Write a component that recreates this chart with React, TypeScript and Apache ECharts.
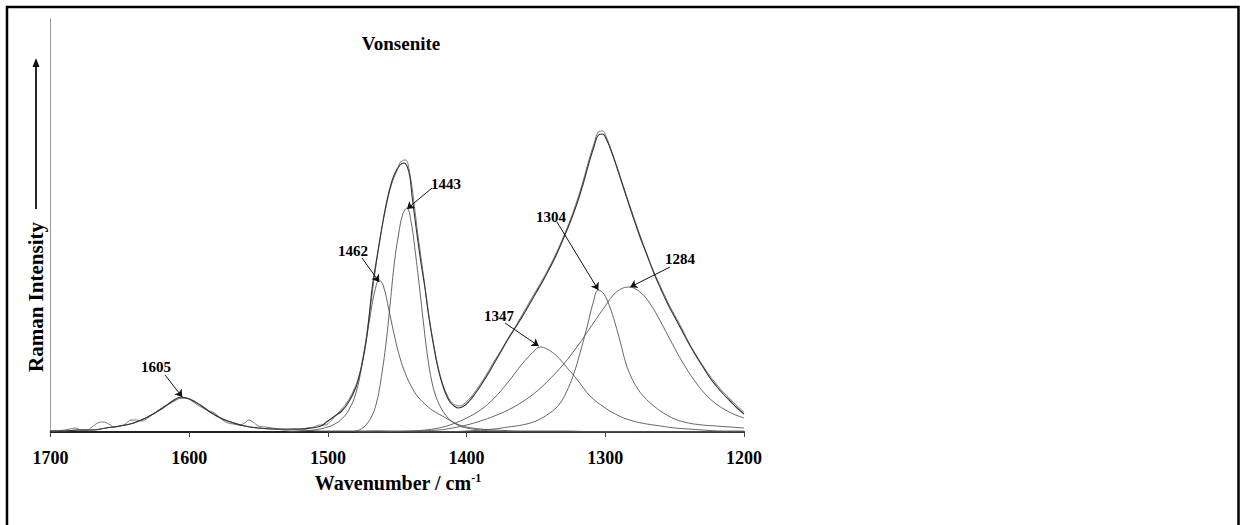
import React, { useEffect, useRef } from "react";
import * as echarts from "echarts";

// ---- data (wavenumber / cm-1 and Raman intensity, arbitrary units) ----
const xMin = 1200;
const xMax = 1700;
const xStep = 100;
const yMax = 413;

const spectrumWn = [1700,1695,1690,1686,1682,1678,1674,1670,1666,1662,1658,1654,1650,1646,1642,1638,1634,1630,1625,1620,1615,1610,1606,1602,1598,1594,1590,1586,1583,1580,1576,1572,1568,1564,1560,1557,1554,1550,1545,1540,1535,1530,1525,1520,1515,1510,1506,1502,1498,1494,1490,1486,1482,1478,1474,1470,1466,1462,1458,1454,1450,1447,1444,1441,1438,1435,1432,1429,1426,1423,1420,1417,1414,1411,1408,1405,1402,1398,1394,1390,1385,1380,1375,1370,1365,1360,1355,1350,1345,1340,1335,1330,1325,1320,1316,1312,1308,1305,1302,1299,1296,1292,1288,1284,1280,1275,1270,1265,1260,1255,1250,1245,1240,1235,1230,1225,1220,1215,1210,1205,1200];
const spectrumI = [1,1,2,3,4,2,2,5,9,10,8,5,6,8,12,12,11,14,19,24,28,32,34,34,31,27,24,21,20,17,12,9,8,7,9,12,10,6,5,4,3,2,3,3,4,5,7,7,11,17,23,30,40,54,80,118,160,196,226,248,262,271,272,259,230,196,166,134,106,82,62,47,37,30,27,26,28,33,40,48,59,71,82,94,105,117,129,141,153,166,180,196,213,233,251,271,289,300,301,294,283,267,250,233,217,197,178,160,145,130,117,104,90,78,67,57,48,40,33,26,20];

const envelopeWn = [1700,1690,1680,1670,1660,1650,1640,1630,1620,1612,1606,1600,1592,1584,1576,1568,1560,1550,1540,1530,1520,1512,1505,1500,1495,1490,1485,1480,1476,1472,1468,1464,1460,1456,1452,1448,1445,1443,1441,1439,1436,1433,1430,1427,1424,1421,1418,1415,1412,1409,1406,1402,1398,1394,1390,1385,1380,1375,1370,1365,1360,1355,1350,1345,1340,1335,1330,1325,1320,1316,1312,1308,1305,1302,1299,1296,1292,1288,1284,1280,1275,1270,1265,1260,1255,1250,1245,1240,1235,1230,1225,1220,1215,1210,1205,1200];
const envelopeI = [1,1,2,2,4,6,9,15,23,31,35,33,27,19,13,9,6,4,3,3,3,4,6,11,16,21,30,44,64,95,145,180,213,240,258,267,269,266,256,232,200,170,144,113,88,66,50,38,30,26,24,26,31,38,46,57,69,81,93,104,115,127,139,151,164,178,194,211,230,248,268,286,297,298,292,282,266,249,232,215,195,177,159,143,128,115,102,89,77,66,55,46,38,31,24,18];

const c1605Wn = [1700,1690,1680,1670,1660,1650,1640,1630,1620,1612,1605,1598,1590,1580,1570,1560,1550,1540,1530,1520,1505,1490,1470,1440,1400,1300,1200];
const c1605I = [1,1,2,2,4,6,9,15,23,30,34,32,25,16,10,6,4,3,2,2,1,1,1,0,0,0,0];

const c1462Wn = [1530,1520,1510,1500,1495,1490,1485,1480,1475,1470,1466,1463,1460,1456,1452,1448,1444,1440,1435,1430,1425,1420,1415,1410,1405,1400,1390,1380,1360,1330,1300,1250,1200];
const c1462I = [0,1,2,5,8,13,22,38,70,112,142,152,146,122,96,74,58,46,35,28,22,18,14,10,7,5,3,2,1,1,0,0,0];

const c1443Wn = [1500,1485,1480,1476,1472,1468,1465,1462,1458,1455,1452,1449,1446,1443,1440,1437,1434,1431,1428,1425,1422,1418,1414,1410,1405,1400,1390,1380,1350,1300,1250,1200];
const c1443I = [0,0,1,3,8,17,29,50,90,130,170,198,218,224,210,180,145,108,74,50,35,23,15,10,6,4,2,1,0,0,0,0];

const c1347Wn = [1480,1460,1440,1430,1420,1410,1400,1390,1380,1370,1360,1352,1347,1342,1335,1328,1320,1311,1300,1290,1280,1270,1260,1250,1240,1230,1215,1200];
const c1347I = [0,0,1,2,4,8,14,22,34,50,68,80,85,83,76,65,52,36,24,16,11,8,6,4,3,2,1,1];

const c1304Wn = [1480,1440,1420,1400,1380,1370,1360,1350,1340,1333,1328,1323,1318,1313,1309,1305,1301,1297,1293,1289,1285,1281,1277,1272,1265,1258,1250,1240,1230,1220,1210,1200];
const c1304I = [0,0,0,1,3,5,7,11,19,28,40,57,80,106,128,142,138,126,109,89,68,54,44,35,26,19,13,9,7,6,5,4];

const c1284Wn = [1480,1460,1440,1420,1410,1400,1390,1380,1370,1360,1350,1340,1330,1320,1310,1300,1292,1283,1275,1268,1260,1252,1244,1236,1228,1220,1212,1206,1200];
const c1284I = [0,1,1,2,4,7,11,16,22,30,40,53,68,86,106,126,140,145,140,129,110,89,69,52,38,28,21,17,14];

// peak annotations: label text, arrow tip (wavenumber, intensity)
const peakLabels = ["1605", "1462", "1443", "1347", "1304", "1284"];
const peakWn = [1605, 1463, 1443, 1348, 1305, 1282];
const peakI = [35, 150, 223, 86, 142, 145];

const titleText = "Vonsenite";
const yName = "Raman Intensity";

// ---- layout (pixels) ----
const labelPos = [
  [156, 367], [353, 251], [446, 184], [499, 316], [551, 217], [680, 259],
];
const arrowStart = [
  [165, 375], [362, 258], [432, 188], [505, 323], [557, 222], [670, 267],
];

const FONT = '"Liberation Serif", "Times New Roman", serif';

const zip = (a: number[], b: number[]) => a.map((v, i) => [v, b[i]]);

function lineSeries(name: string, data: number[][], color: string, width: number, ann?: number) {
  const s: any = {
    name,
    type: "line",
    data,
    showSymbol: false,
    smooth: 0.4,
    lineStyle: { color, width },
    silent: true,
    z: 3,
  };
  if (ann !== undefined) {
    s.markLine = {
      silent: true,
      symbol: ["none", "arrow"],
      symbolSize: 7,
      lineStyle: { color: "#111", width: 1, type: "solid" },
      label: { show: false },
      data: [[
        { x: arrowStart[ann][0], y: arrowStart[ann][1] },
        { coord: [peakWn[ann], peakI[ann]] },
      ]],
    };
  }
  return s;
}

export default function App() {
  const ref = useRef<HTMLDivElement>(null);
  useEffect(() => {
    const chart = echarts.init(ref.current!, null, { renderer: "svg" });
    const option: any = {
      animation: false,
      backgroundColor: "#fff",
      grid: { left: 50.5, right: 496, top: 19, bottom: 93 },
      xAxis: {
        type: "value",
        min: xMin,
        max: xMax,
        interval: xStep,
        inverse: true,
        axisLine: { show: true, lineStyle: { color: "#222", width: 2 } },
        axisTick: { show: true, inside: false, length: 5, lineStyle: { color: "#444", width: 1 } },
        axisLabel: {
          fontFamily: FONT,
          fontWeight: "bold",
          fontSize: 18,
          color: "#000",
          margin: 26,
          verticalAlign: "middle",
          showMinLabel: true,
          showMaxLabel: true,
          formatter: (v: number) => String(v),
        },
        splitLine: { show: false },
      },
      yAxis: {
        type: "value",
        min: 0,
        max: yMax,
        axisLine: { show: true, lineStyle: { color: "#999", width: 1 } },
        axisTick: { show: false },
        axisLabel: { show: false },
        splitLine: { show: false },
      },
      series: [
        lineSeries("c1605", zip(c1605Wn, c1605I), "#555", 0.9, 0),
        lineSeries("c1462", zip(c1462Wn, c1462I), "#555", 0.9, 1),
        lineSeries("c1443", zip(c1443Wn, c1443I), "#555", 0.9, 2),
        lineSeries("c1347", zip(c1347Wn, c1347I), "#555", 0.9, 3),
        lineSeries("c1304", zip(c1304Wn, c1304I), "#555", 0.9, 4),
        lineSeries("c1284", zip(c1284Wn, c1284I), "#555", 0.9, 5),
        lineSeries("spectrum", zip(spectrumWn, spectrumI), "#777", 1),
        lineSeries("envelope", zip(envelopeWn, envelopeI), "#333", 1.1),
      ],
      graphic: [
        {
          type: "rect",
          shape: { x: 7, y: 7, width: 1231.5, height: 540 },
          style: { fill: "none", stroke: "#000", lineWidth: 2.5 },
          silent: true,
        },
        {
          type: "text",
          x: 401,
          y: 43,
          style: {
            text: titleText,
            fontFamily: FONT,
            fontWeight: "bold",
            fontSize: 19,
            fill: "#000",
            align: "center",
            verticalAlign: "middle",
          },
        },
        {
          type: "text",
          x: 398,
          y: 483,
          style: {
            text: "{a|Wavenumber / cm}{b|-1}",
            fill: "#000",
            align: "center",
            verticalAlign: "middle",
            rich: {
              a: { fontFamily: FONT, fontWeight: "bold", fontSize: 20, fill: "#000", lineHeight: 22 },
              b: { fontFamily: FONT, fontWeight: "bold", fontSize: 12, fill: "#000", lineHeight: 22, verticalAlign: "top" },
            },
          },
        },
        {
          type: "text",
          x: 36,
          y: 297,
          rotation: Math.PI / 2,
          style: {
            text: yName,
            fontFamily: FONT,
            fontWeight: "bold",
            fontSize: 21,
            fill: "#000",
            align: "center",
            verticalAlign: "middle",
          },
        },
        {
          type: "line",
          shape: { x1: 36, y1: 209, x2: 36, y2: 64 },
          style: { stroke: "#111", lineWidth: 1.8 },
        },
        {
          type: "polygon",
          shape: { points: [[36, 58], [32.5, 67], [39.5, 67]] },
          style: { fill: "#111" },
        },
        ...peakLabels.map((t, i) => ({
          type: "text",
          x: labelPos[i][0],
          y: labelPos[i][1],
          style: {
            text: t,
            fontFamily: FONT,
            fontWeight: "bold",
            fontSize: 15,
            fill: "#000",
            align: "center",
            verticalAlign: "middle",
          },
        })),
      ],
    };
    chart.setOption(option);
    return () => chart.dispose();
  }, []);
  return (
    <div
      ref={ref}
      style={{ position: "absolute", left: 0, top: 0, width: 1240, height: 525, background: "#fff" }}
    />
  );
}
